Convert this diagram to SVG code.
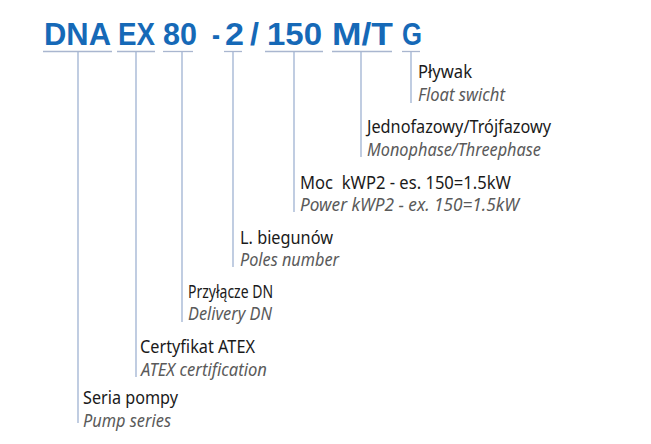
<svg xmlns="http://www.w3.org/2000/svg" width="651" height="444" viewBox="0 0 651 444">
<style>
.hd{font-family:"Liberation Sans",Arial,sans-serif;font-weight:bold;font-size:30.5px;fill:#1669b7}
.pl{font-family:"Noto Sans","Liberation Sans",sans-serif;font-size:18.5px;fill:#1a1a1a}
.en{font-family:"Noto Sans","Liberation Sans",sans-serif;font-size:18.5px;font-style:italic;fill:#5a5a5a}
.ul{stroke:#a9b6cf;stroke-width:1.3}
.vl{stroke:#9fb2d2;stroke-width:1.3;fill:none}
</style>
<rect width="651" height="444" fill="#ffffff"/>
<g id="header">
<text class="hd" x="44" y="44.5" textLength="67" lengthAdjust="spacingAndGlyphs">DNA</text>
<text class="hd" x="118" y="44.5" textLength="37" lengthAdjust="spacingAndGlyphs">EX</text>
<text class="hd" x="163" y="44.5" textLength="34" lengthAdjust="spacingAndGlyphs">80</text>
<text class="hd" x="212" y="44.5" textLength="8" lengthAdjust="spacingAndGlyphs">-</text>
<text class="hd" x="225" y="44.5" textLength="19" lengthAdjust="spacingAndGlyphs">2</text>
<text class="hd" x="250" y="44.5" textLength="9" lengthAdjust="spacingAndGlyphs">/</text>
<text class="hd" x="267" y="44.5" textLength="55" lengthAdjust="spacingAndGlyphs">150</text>
<text class="hd" x="332" y="44.5" textLength="61" lengthAdjust="spacingAndGlyphs">M/T</text>
<text class="hd" x="402" y="44.5" textLength="20" lengthAdjust="spacingAndGlyphs">G</text>
</g>
<g id="connectors">
<line class="ul" x1="43" y1="51.5" x2="112" y2="51.5"/>
<line class="ul" x1="117" y1="51.5" x2="155" y2="51.5"/>
<line class="ul" x1="163" y1="51.5" x2="193" y2="51.5"/>
<line class="ul" x1="224" y1="51.5" x2="242" y2="51.5"/>
<line class="ul" x1="265" y1="51.5" x2="323" y2="51.5"/>
<line class="ul" x1="332" y1="51.5" x2="392" y2="51.5"/>
<line class="ul" x1="402" y1="51.5" x2="420" y2="51.5"/>
<line class="vl" x1="78" y1="52" x2="78" y2="423"/>
<line class="vl" x1="136" y1="52" x2="136" y2="377"/>
<line class="vl" x1="182" y1="52" x2="182" y2="322"/>
<line class="vl" x1="233" y1="52" x2="233" y2="267"/>
<line class="vl" x1="294" y1="52" x2="294" y2="212"/>
<line class="vl" x1="361" y1="52" x2="361" y2="157"/>
<line class="vl" x1="411" y1="52" x2="411" y2="103"/>
</g>
<g id="node-plywak">
<text class="pl" x="418" y="78" textLength="54" lengthAdjust="spacingAndGlyphs">Pływak</text>
<text class="en" x="418" y="101" textLength="87" lengthAdjust="spacingAndGlyphs">Float swicht</text>
</g>
<g id="node-faza">
<text class="pl" x="367" y="133" textLength="184" lengthAdjust="spacingAndGlyphs">Jednofazowy/Trójfazowy</text>
<text class="en" x="367" y="156" textLength="174" lengthAdjust="spacingAndGlyphs">Monophase/Threephase</text>
</g>
<g id="node-moc">
<text class="pl" x="300" y="189" textLength="211" lengthAdjust="spacingAndGlyphs">Moc&#160; kWP2 - es. 150=1.5kW</text>
<text class="en" x="300" y="211" textLength="219" lengthAdjust="spacingAndGlyphs">Power kWP2 - ex. 150=1.5kW</text>
</g>
<g id="node-bieguny">
<text class="pl" x="240" y="243.5" textLength="93" lengthAdjust="spacingAndGlyphs">L. biegunów</text>
<text class="en" x="240" y="266" textLength="99" lengthAdjust="spacingAndGlyphs">Poles number</text>
</g>
<g id="node-przylacze">
<text class="pl" x="188" y="298" textLength="85" lengthAdjust="spacingAndGlyphs">Przyłącze DN</text>
<text class="en" x="188" y="320" textLength="84" lengthAdjust="spacingAndGlyphs">Delivery DN</text>
</g>
<g id="node-atex">
<text class="pl" x="140" y="353" textLength="115" lengthAdjust="spacingAndGlyphs">Certyfikat ATEX</text>
<text class="en" x="141" y="376" textLength="126" lengthAdjust="spacingAndGlyphs">ATEX certification</text>
</g>
<g id="node-seria">
<text class="pl" x="83" y="404" textLength="95" lengthAdjust="spacingAndGlyphs">Seria pompy</text>
<text class="en" x="83" y="427" textLength="88" lengthAdjust="spacingAndGlyphs">Pump series</text>
</g>
</svg>
